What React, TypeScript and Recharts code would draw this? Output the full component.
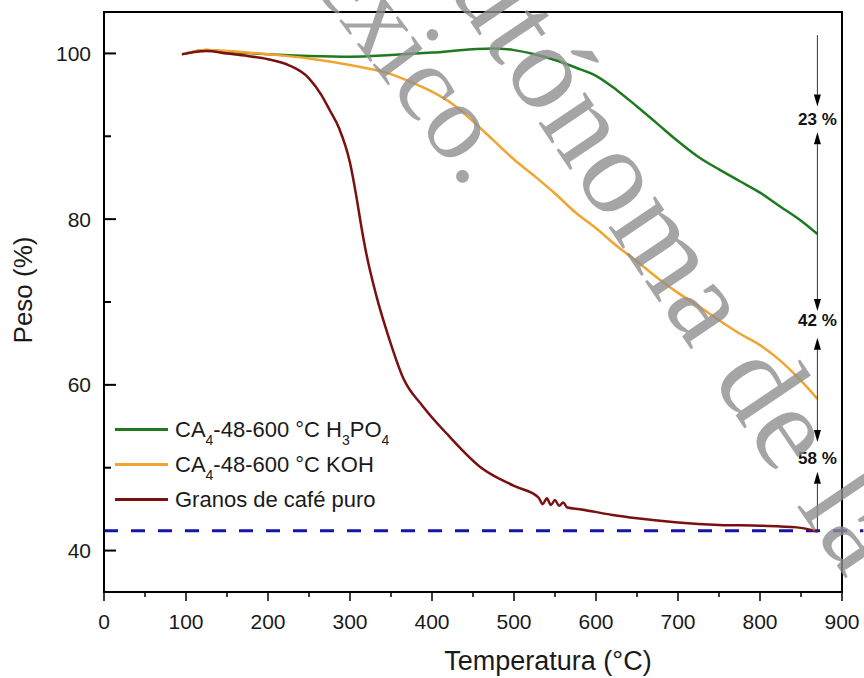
import React from 'react';
import {
  LineChart,
  Line,
  XAxis,
  YAxis,
  ReferenceLine,
  ReferenceArea,
  ReferenceDot,
  Legend,
} from 'recharts';

// ---- data ----
const greenTemp = [100, 125, 150, 200, 250, 300, 350, 400, 450, 475, 500, 525, 550, 575, 600, 625, 650, 675, 700, 725, 750, 775, 800, 825, 850, 870];
const greenPeso = [100.0, 100.4, 100.2, 99.9, 99.7, 99.6, 99.8, 100.1, 100.5, 100.6, 100.4, 99.9, 99.2, 98.3, 97.3, 95.6, 93.6, 91.5, 89.4, 87.5, 86.0, 84.6, 83.2, 81.5, 79.8, 78.2];

const orangeTemp = [100, 125, 150, 200, 250, 300, 350, 375, 400, 425, 450, 475, 500, 525, 550, 575, 600, 625, 650, 675, 700, 725, 750, 775, 800, 825, 850, 870];
const orangePeso = [100.0, 100.4, 100.3, 99.9, 99.4, 98.6, 97.5, 96.5, 95.4, 93.9, 91.8, 89.5, 87.2, 85.2, 83.1, 80.8, 78.9, 76.8, 74.9, 72.9, 71.1, 69.5, 67.8, 66.2, 64.8, 62.9, 60.5, 58.3];

const brownTemp = [95, 125, 150, 175, 200, 225, 250, 265, 275, 287, 300, 308, 314, 320, 332, 348, 365, 389, 420, 460, 500, 530, 535, 540, 545, 550, 555, 560, 565, 580, 620, 650, 700, 750, 800, 845, 870];
const brownPeso = [99.9, 100.3, 100.0, 99.7, 99.3, 98.6, 97.0, 95.0, 93.2, 90.9, 86.8, 82.6, 79.0, 75.8, 70.8, 65.5, 60.8, 57.4, 53.9, 50.0, 47.8, 46.4, 45.6, 46.3, 45.5, 46.1, 45.4, 45.8, 45.2, 45.0, 44.3, 43.9, 43.4, 43.1, 43.0, 42.8, 42.3];

const seriesNames = ['CA4-48-600 °C H3PO4', 'CA4-48-600 °C KOH', 'Granos de café puro'];
const seriesColors = ['#1f7a1f', '#f2a430', '#7a1010'];

const xTicks = [0, 50, 100, 150, 200, 250, 300, 350, 400, 450, 500, 550, 600, 650, 700, 750, 800, 850, 900];
const xLabelTicks = [0, 100, 200, 300, 400, 500, 600, 700, 800, 900];
const yTicks = [40, 50, 60, 70, 80, 90, 100];
const yLabelTicks = [40, 60, 80, 100];

const residueLevel = 42.4;
const arrowTemp = 870;
const arrowStart = [102.2, 78.2, 78.2, 58.3, 58.3, 42.4];
const arrowEnd = [93.6, 90.5, 68.9, 65.7, 53.1, 49.5];
const lossLabels = ['23 %', '42 %', '58 %'];
const lossLabelPeso = [92.1, 67.8, 51.2];

const toPoints = (t: number[], p: number[]) => t.map((x, i) => ({ t: x, peso: p[i] }));
const seriesData = [toPoints(greenTemp, greenPeso), toPoints(orangeTemp, orangePeso), toPoints(brownTemp, brownPeso)];

const FONT = "Arial, 'Liberation Sans', Helvetica, sans-serif";
const SERIF = "'Liberation Serif', 'DejaVu Serif', 'Times New Roman', serif";

// subscript digits that directly follow a letter (CA4, H3PO4)
const renderName = (name: string) => {
  const parts = name.split(/(?<=[A-Za-z])(\d+)/);
  return parts.map((p, i) =>
    i % 2 === 1 ? (
      <span key={i} style={{ fontSize: 14, position: 'relative', top: 8 }}>{p}</span>
    ) : (
      <span key={i}>{p}</span>
    )
  );
};

const XTick = (props: any) => {
  const { x, y, payload } = props;
  const major = xLabelTicks.includes(payload.value);
  return (
    <g>
      <line x1={x} y1={y} x2={x} y2={y + (major ? 9 : 5)} stroke="#000" strokeWidth={1.5} />
      {major && (
        <text x={x} y={y + 37} textAnchor="middle" fontSize={21} fontFamily={FONT} fill="#1a1a1a">
          {payload.value}
        </text>
      )}
    </g>
  );
};

const YTick = (props: any) => {
  const { x, y, payload } = props;
  const major = yLabelTicks.includes(payload.value);
  return (
    <g>
      <line x1={x} y1={y} x2={x + (major ? 12 : 7)} y2={y} stroke="#000" strokeWidth={2} />
      {major && (
        <text x={x - 13} y={y + 7.5} textAnchor="end" fontSize={21} fontFamily={FONT} fill="#1a1a1a">
          {payload.value}
        </text>
      )}
    </g>
  );
};

const ArrowShape = (props: any) => {
  const { x1, y1, x2, y2 } = props;
  const dir = y2 > y1 ? 1 : -1;
  const L = 12;
  const W = 3.5;
  return (
    <g>
      <line x1={x1} y1={y1} x2={x2} y2={y2 - dir * L} stroke="#333" strokeWidth={1} />
      <polygon points={`${x2},${y2} ${x2 - W},${y2 - dir * L} ${x2 + W},${y2 - dir * L}`} fill="#000" />
    </g>
  );
};

const LegendContent = () => (
  <div style={{ fontFamily: FONT, fontSize: 22, color: '#1a1a1a' }}>
    {seriesNames.map((n, i) => (
      <div key={n} style={{ display: 'flex', alignItems: 'center', height: 35, whiteSpace: 'nowrap' }}>
        <span style={{ display: 'inline-block', width: 53, height: 3, background: seriesColors[i], marginRight: 7 }} />
        <span>{renderName(n)}</span>
      </div>
    ))}
  </div>
);

export default function App() {
  return (
    <div style={{ position: 'absolute', left: 0, top: 0, width: 864, height: 678, background: '#fff' }}>
      <LineChart width={864} height={678} margin={{ top: 12, right: 22, bottom: 46, left: 44 }}>
        <XAxis
          dataKey="t"
          type="number"
          domain={[0, 900]}
          ticks={xTicks}
          interval={0}
          allowDataOverflow
          height={40}
          tickSize={0}
          tickMargin={0}
          tick={(p: any) => <XTick {...p} />}
          axisLine={{ stroke: '#000', strokeWidth: 2 }}
          tickLine={false}
          label={{
            content: (p: any) => {
              const vb = p.viewBox || { x: 104, y: 592, width: 738 };
              return (
                <text x={vb.x + vb.width * 0.6016} y={vb.y + 78} textAnchor="middle" fontSize={27} fontFamily={FONT} fill="#1a1a1a">
                  Temperatura (°C)
                </text>
              );
            },
          }}
        />
        <YAxis
          dataKey="peso"
          type="number"
          domain={[35, 105]}
          ticks={yTicks}
          interval={0}
          allowDataOverflow
          width={60}
          tickSize={0}
          tickMargin={0}
          tick={(p: any) => <YTick {...p} />}
          axisLine={{ stroke: '#000', strokeWidth: 2 }}
          tickLine={false}
          label={{
            content: (p: any) => {
              const vb = p.viewBox || { x: 44, y: 12, height: 580 };
              const cx = vb.x - 12;
              const cy = vb.y + vb.height / 2 - 12;
              return (
                <text x={cx} y={cy} transform={`rotate(-90 ${cx} ${cy})`} textAnchor="middle" fontSize={26} fontFamily={FONT} fill="#1a1a1a">
                  Peso (%)
                </text>
              );
            },
          }}
        />
        <ReferenceArea x1={0} x2={900} y1={35} y2={105} fill="none" stroke="#000" strokeWidth={2} ifOverflow="visible" />
        <ReferenceLine
          segment={[{ x: 0, y: residueLevel }, { x: 926, y: residueLevel }]}
          stroke="#1414a6"
          strokeWidth={3}
          strokeDasharray="14 13"
          ifOverflow="visible"
        />
        {seriesData.map((d, i) => (
          <Line
            key={seriesNames[i]}
            data={d}
            dataKey="peso"
            name={seriesNames[i]}
            type="monotone"
            stroke={seriesColors[i]}
            strokeWidth={2.5}
            dot={false}
            activeDot={false}
            isAnimationActive={false}
          />
        ))}
        {arrowStart.map((s, i) => (
          <ReferenceLine
            key={'arrow' + i}
            segment={[{ x: arrowTemp, y: s }, { x: arrowTemp, y: arrowEnd[i] }]}
            ifOverflow="visible"
            shape={(p: any) => <ArrowShape {...p} />}
          />
        ))}
        {lossLabels.map((l, i) => (
          <ReferenceDot
            key={l}
            x={arrowTemp}
            y={lossLabelPeso[i]}
            r={1}
            fill="none"
            stroke="none"
            ifOverflow="visible"
            label={{ value: l, position: 'center', fontSize: 17, fontWeight: 'bold', fill: '#111', fontFamily: FONT }}
          />
        ))}
        <Legend
          layout="horizontal"
          align="center"
          verticalAlign="middle"
          content={() => <LegendContent />}
          wrapperStyle={{ left: 115, top: 412, width: 'auto', height: 'auto' }}
        />
      </LineChart>
      <svg width={864} height={678} style={{ position: 'absolute', left: 0, top: 0, pointerEvents: 'none' }}>
        <text x={396} y={-88} transform="rotate(56 396 -88)" fontSize={122} letterSpacing={2} fontFamily={SERIF} fill="#8f8f8f" fillOpacity={0.8}>
          Autónoma de la
        </text>
        <text x={252} y={-95} transform="rotate(53 252 -95)" fontSize={108} fontFamily={SERIF} fill="#8f8f8f" fillOpacity={0.8}>
          México.
        </text>
      </svg>
    </div>
  );
}
